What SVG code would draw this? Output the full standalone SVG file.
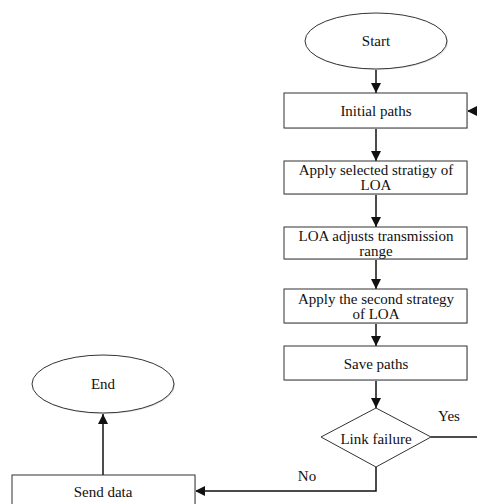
<svg xmlns="http://www.w3.org/2000/svg" width="477" height="504" viewBox="0 0 477 504">
<defs>
<style>
.box{fill:#fff;stroke:#333;stroke-width:1}
.sh{fill:#dfe3e8;stroke:none}
.t{font-family:"Liberation Serif","Times New Roman",serif;font-size:15px;fill:#111;text-anchor:middle}
.c{fill:none;stroke:#111;stroke-width:1.5}
</style>
<marker id="ah" viewBox="0 0 10 10" refX="10" refY="5" markerWidth="11" markerHeight="10" markerUnits="userSpaceOnUse" orient="auto">
<path d="M0,0 L10,5 L0,10 z" fill="#111"/>
</marker>
</defs>
<rect width="477" height="504" fill="#fff"/>
<g id="connectors">
<line class="c" x1="376" y1="69" x2="376" y2="93" marker-end="url(#ah)"/>
<line class="c" x1="376" y1="128" x2="376" y2="161" marker-end="url(#ah)"/>
<line class="c" x1="376" y1="194" x2="376" y2="227" marker-end="url(#ah)"/>
<line class="c" x1="376" y1="259" x2="376" y2="289" marker-end="url(#ah)"/>
<line class="c" x1="376" y1="323" x2="376" y2="346" marker-end="url(#ah)"/>
<line class="c" x1="376" y1="380" x2="376" y2="408" marker-end="url(#ah)"/>
<polyline class="c" points="376,467 376,491 195,491" marker-end="url(#ah)"/>
<line class="c" x1="431" y1="437" x2="477" y2="437"/>
<line class="c" x1="479" y1="111" x2="467" y2="111" marker-end="url(#ah)"/>
<line class="c" x1="103" y1="475" x2="103" y2="414" marker-end="url(#ah)"/>
<text class="t" x="449" y="421">Yes</text>
<text class="t" x="307" y="481">No</text>
</g>
<g id="start">
<ellipse cx="377" cy="42" rx="71" ry="28" class="sh"/>
<ellipse cx="376" cy="41" rx="71" ry="28" class="box"/>
<text class="t" x="376" y="46">Start</text>
</g>
<g id="initial">
<rect x="285" y="94" width="183" height="35" class="sh"/>
<rect x="284" y="93" width="183" height="35" class="box"/>
<text class="t" x="376" y="116">Initial paths</text>
</g>
<g id="apply1">
<rect x="285" y="162" width="183" height="33" class="sh"/>
<rect x="284" y="161" width="183" height="33" class="box"/>
<text class="t" x="376" y="175">Apply selected stratigy of</text>
<text class="t" x="376" y="190">LOA</text>
</g>
<g id="adjust">
<rect x="285" y="228" width="183" height="32" class="sh"/>
<rect x="284" y="227" width="183" height="32" class="box"/>
<text class="t" x="376" y="241">LOA adjusts transmission</text>
<text class="t" x="376" y="256">range</text>
</g>
<g id="apply2">
<rect x="285" y="290" width="183" height="34" class="sh"/>
<rect x="284" y="289" width="183" height="34" class="box"/>
<text class="t" x="376" y="304">Apply the second strategy</text>
<text class="t" x="376" y="319">of LOA</text>
</g>
<g id="save">
<rect x="285" y="347" width="183" height="34" class="sh"/>
<rect x="284" y="346" width="183" height="34" class="box"/>
<text class="t" x="376" y="369">Save paths</text>
</g>
<g id="link">
<polygon points="376,408 431,437 376,467 321,437" class="box"/>
<text class="t" x="376" y="444">Link failure</text>
</g>
<g id="end">
<ellipse cx="104" cy="385" rx="71" ry="29" class="sh"/>
<ellipse cx="103" cy="384" rx="71" ry="29" class="box"/>
<text class="t" x="103" y="389">End</text>
</g>
<g id="send">
<rect x="13" y="476" width="183" height="35" class="sh"/>
<rect x="12" y="475" width="183" height="35" class="box"/>
<text class="t" x="103" y="497">Send data</text>
</g>
</svg>
